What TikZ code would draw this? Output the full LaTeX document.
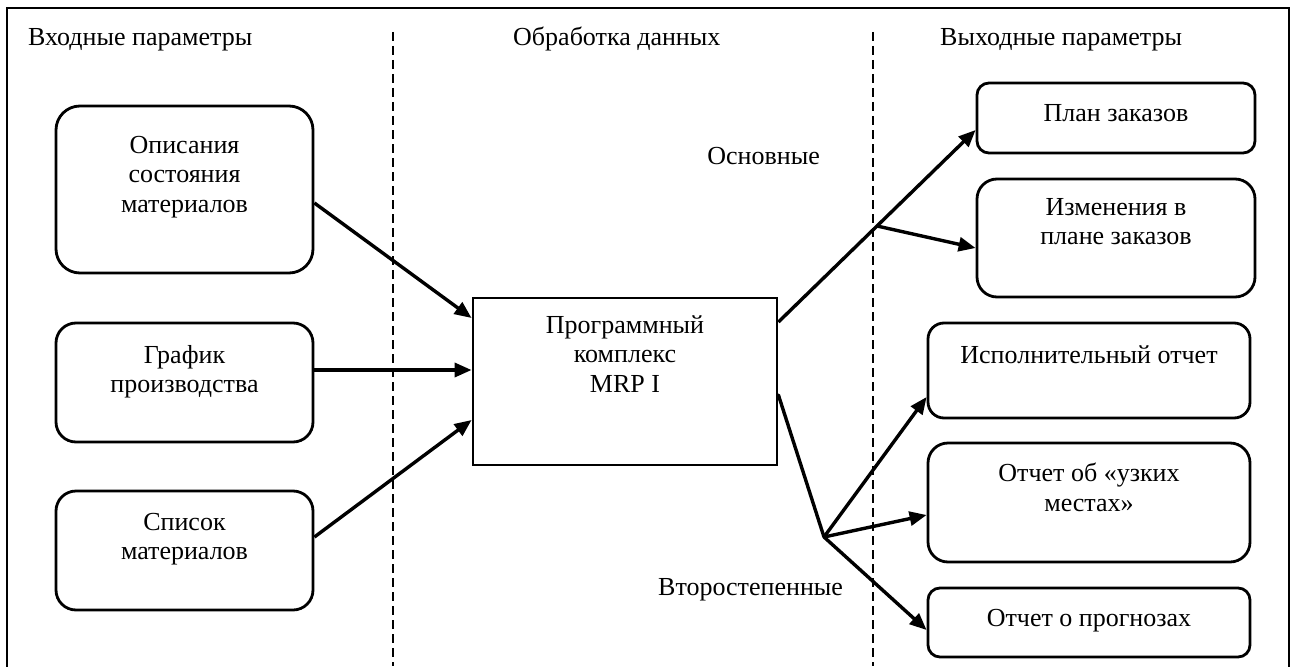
\documentclass[tikz,border=0pt]{standalone}
\usepackage{fontspec}
\setmainfont{Liberation Serif}
\usetikzlibrary{arrows.meta,calc}
\begin{document}
\begin{tikzpicture}[x=1pt,y=-1pt,
  every node/.style={font=\fontsize{26}{29.5}\selectfont},
  rbox/.style={draw, line width=2.8pt, rounded corners=#1, inner sep=0pt},
  sbox/.style={draw, line width=2.8pt, inner sep=0pt},
  txt/.style={align=center, inner sep=0pt, anchor=north, execute at begin node=\strut},
  lbl/.style={inner sep=0pt},
  arr/.style={line width=3.4pt, -{Triangle[length=17pt,width=14pt]}},
  ln/.style={line width=3.4pt, line cap=round},
  sep/.style={line width=2.4pt, dash pattern=on 9pt off 5pt},
  frame/.style={line width=2.6pt}]
\useasboundingbox (0,0) rectangle (1297,666);
% frame and separators
\draw[frame] (7,670) -- (7,8) -- (1289,8) -- (1289,670);
\draw[sep] (393,32) -- (393,666);
\draw[sep] (873,32) -- (873,666);
% headers
\node[lbl, anchor=base west] (h1) at (28,46) {Входные параметры};
\node[lbl, anchor=base west] (h2) at (513,46) {Обработка данных};
\node[lbl, anchor=base west] (h3) at (940,46) {Выходные параметры};
% boxes
\node[rbox=24pt, minimum width=257pt, minimum height=167pt] (opis) at (184.5,189.5) {};
\node[rbox=20pt, minimum width=257pt, minimum height=119pt] (graf) at (184.5,382.5) {};
\node[rbox=20pt, minimum width=257pt, minimum height=119pt] (spis) at (184.5,550.5) {};
\node[sbox, minimum width=304pt, minimum height=167pt] (prog) at (625,381.5) {};
\node[rbox=12pt, minimum width=278pt, minimum height=70pt] (plan) at (1116,118) {};
\node[rbox=20pt, minimum width=278pt, minimum height=118pt] (izm) at (1116,238) {};
\node[rbox=16pt, minimum width=322pt, minimum height=95pt] (isp) at (1089,370.5) {};
\node[rbox=20pt, minimum width=322pt, minimum height=119pt] (uzk) at (1089,502.5) {};
\node[rbox=12pt, minimum width=322pt, minimum height=69pt] (prgn) at (1089,622.5) {};
% box texts
\node[txt] (topis) at (184.5,136) {Описания\\состояния\\материалов};
\node[txt] (tgraf) at (184.5,345) {График\\производства};
\node[txt] (tspis) at (184.5,513) {Список\\материалов};
\node[txt] (tprog) at (625,315) {Программный\\комплекс\\MRP I};
\node[txt] (tplan) at (1116,101) {План заказов};
\node[txt] (tizm) at (1116,198) {Изменения в\\плане заказов};
\node[txt] (tisp) at (1089,343) {Исполнительный отчет};
\node[txt] (tuzk) at (1089,463) {Отчет об «узких\\местах»};
\node[txt] (tprgn) at (1089,606) {Отчет о прогнозах};
% side labels
\node[lbl, anchor=base east] (osn) at (820,164) {Основные};
\node[lbl, anchor=base west] (vtor) at (658,595) {Второстепенные};
% connectors
\draw[arr] ($(opis.east)+(0,13.5)$) -- ($(prog.west)+(0,-63.5)$);
\draw[arr] ($(graf.east)+(0,-12.5)$) -- ($(prog.west)+(0,-11.5)$);
\draw[arr] ($(spis.east)+(0,-13.5)$) -- ($(prog.west)+(0,38.5)$);
\coordinate (o1) at ($(prog.east)+(0,-59.5)$);
\coordinate (p1) at ($(plan.west)+(0,12)$);
\coordinate (j1) at ($(o1)!0.5!(p1)$);
\draw[arr] (o1) -- (p1);
\draw[arr] (j1) -- ($(izm.west)+(0,10)$);
\coordinate (j2) at (824,537);
\draw[ln] ($(prog.east)+(0,13.5)$) -- (j2);
\draw[arr] (j2) -- ($(isp.west)+(0,26.5)$);
\draw[arr] (j2) -- ($(uzk.west)+(0,12.5)$);
\draw[arr] (j2) -- ($(prgn.west)+(0,7.5)$);
\end{tikzpicture}
\end{document}
